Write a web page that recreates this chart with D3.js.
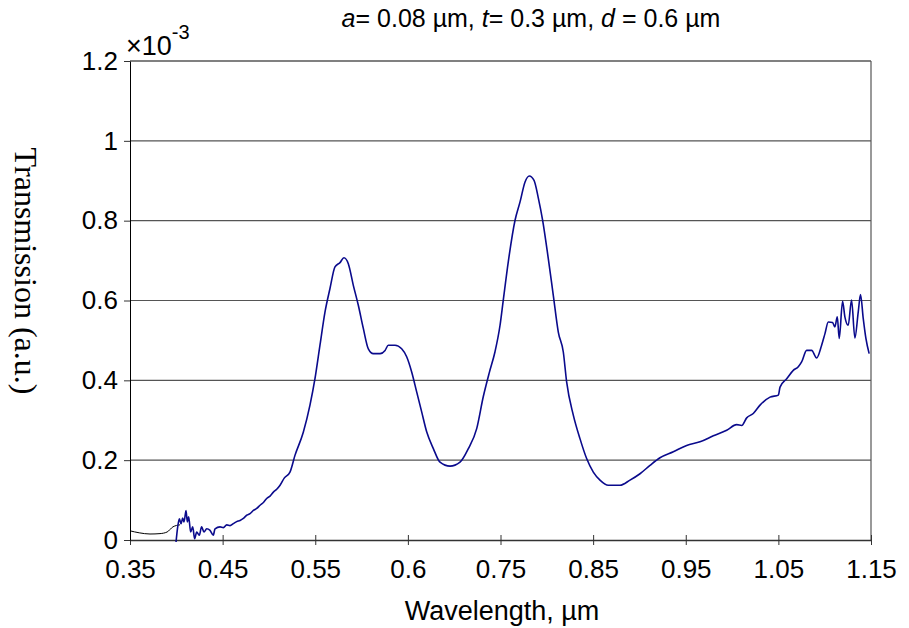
<!DOCTYPE html>
<html>
<head>
<meta charset="utf-8">
<script src="https://cdn.jsdelivr.net/npm/d3@7"></script>
<style>
  body { margin: 0; background: #fff; }
  svg { display: block; }
</style>
</head>
<body>
<svg id="chart" width="909" height="628"></svg>
<script>
// black reference trace (short segment at the start)
var blackWl = [0.35, 0.36, 0.3716, 0.3824, 0.39, 0.3964, 0.404];
var blackT  = [0.023, 0.018, 0.015, 0.016, 0.02, 0.033, 0.038];

// main blue trace, wavelength (um) and transmission (x1e-3)
var blueWl = [0.3997, 0.4015, 0.4033, 0.4051, 0.4069, 0.4083, 0.4105, 0.4119, 0.4133, 0.4155,
  0.4177, 0.4198, 0.422, 0.4248, 0.4273, 0.4299, 0.4328, 0.4364, 0.4399, 0.4418,
  0.4472, 0.4508, 0.4544, 0.458, 0.4616, 0.4652, 0.4688, 0.4724, 0.476, 0.4796,
  0.4832, 0.4868, 0.4904, 0.494, 0.4976, 0.5012, 0.5048, 0.5084, 0.512, 0.5165,
  0.5227, 0.5281, 0.5371, 0.5443, 0.5497, 0.5551, 0.5605, 0.5659, 0.5713, 0.5767,
  0.581, 0.5857, 0.5911, 0.5965, 0.6019, 0.6073, 0.6127, 0.62, 0.6254, 0.6289,
  0.6361, 0.6433, 0.6487, 0.6541, 0.6595, 0.6649, 0.6703, 0.6775, 0.6847, 0.6955,
  0.7063, 0.7153, 0.7243, 0.7315, 0.738, 0.744, 0.7495, 0.753, 0.7584, 0.7657,
  0.7711, 0.7765, 0.7811, 0.7862, 0.7909, 0.7955, 0.8016, 0.807, 0.8124, 0.8178,
  0.8214, 0.8286, 0.8358, 0.843, 0.8502, 0.8574, 0.8664, 0.879, 0.8898, 0.9006,
  0.9114, 0.9222, 0.9366, 0.951, 0.9654, 0.9798, 0.9942, 1.005, 1.0104, 1.0158,
  1.0229, 1.0302, 1.041, 1.05, 1.0518, 1.059, 1.0661, 1.0715, 1.0751, 1.0805,
  1.0859, 1.0913, 1.0967, 1.1003, 1.1039, 1.1085, 1.111, 1.1136, 1.1157, 1.1193,
  1.1218, 1.1254, 1.129, 1.1326, 1.1362, 1.1387, 1.1416, 1.1445, 1.148];
var blueT = [-0.005, 0.033, 0.053, 0.041, 0.055, 0.045, 0.074, 0.045, 0.058, 0.02,
  0.033, 0.003, 0.02, 0.012, 0.033, 0.02, 0.028, 0.024, 0.012, 0.028,
  0.033, 0.031, 0.038, 0.036, 0.041, 0.046, 0.049, 0.054, 0.062, 0.066,
  0.074, 0.079, 0.087, 0.094, 0.104, 0.11, 0.12, 0.127, 0.137, 0.155,
  0.17, 0.212, 0.27, 0.338, 0.404, 0.488, 0.571, 0.63, 0.684, 0.695,
  0.707, 0.692, 0.638, 0.588, 0.53, 0.479, 0.467, 0.467, 0.475, 0.488,
  0.488, 0.479, 0.459, 0.421, 0.371, 0.321, 0.271, 0.229, 0.195, 0.185,
  0.195, 0.229, 0.279, 0.36, 0.42, 0.471, 0.538, 0.601, 0.697, 0.801,
  0.847, 0.897, 0.912, 0.901, 0.856, 0.801, 0.705, 0.613, 0.521, 0.471,
  0.396, 0.313, 0.254, 0.204, 0.17, 0.15, 0.137, 0.137, 0.15, 0.166,
  0.187, 0.206, 0.221, 0.237, 0.246, 0.261, 0.275, 0.289, 0.287, 0.306,
  0.317, 0.338, 0.358, 0.363, 0.383, 0.404, 0.425, 0.434, 0.446, 0.475,
  0.475, 0.456, 0.488, 0.517, 0.546, 0.545, 0.534, 0.559, 0.505, 0.598,
  0.559, 0.538, 0.601, 0.506, 0.571, 0.615, 0.555, 0.505, 0.467];

// axis ticks (the source chart labels 0.65 as "0.6")
var xTicks = [0.35, 0.45, 0.55, 0.65, 0.75, 0.85, 0.95, 1.05, 1.15];
var xTickLabels = ["0.35", "0.45", "0.55", "0.6", "0.75", "0.85", "0.95", "1.05", "1.15"];
var yTicks = [0, 0.2, 0.4, 0.6, 0.8, 1, 1.2];
var yTickLabels = ["0", "0.2", "0.4", "0.6", "0.8", "1", "1.2"];

var svg = d3.select("#chart");
var pLeft = 130, pRight = 871, pTop = 61, pBottom = 540;
var sans = "Liberation Sans, Arial, sans-serif";

var x = d3.scaleLinear().domain([0.35, 1.15]).range([pLeft, pRight]);
var y = d3.scaleLinear().domain([0, 1.2]).range([pBottom, pTop]);

// gridlines
svg.append("g")
    .selectAll("line")
    .data(yTicks.filter(d => d > 0 && d < 1.2))
    .join("line")
    .attr("x1", pLeft).attr("x2", pRight)
    .attr("y1", d => y(d)).attr("y2", d => y(d))
    .attr("stroke", "#555")
    .attr("stroke-width", 1.2);

// frame (top/right)
svg.append("line")
    .attr("x1", pLeft).attr("x2", pRight).attr("y1", pTop).attr("y2", pTop)
    .attr("stroke", "#808080").attr("stroke-width", 2);
svg.append("line")
    .attr("x1", pRight).attr("x2", pRight).attr("y1", pTop).attr("y2", pBottom)
    .attr("stroke", "#555").attr("stroke-width", 1.2);

// x axis
var xAxis = svg.append("g")
    .attr("transform", `translate(0,${pBottom})`)
    .call(d3.axisBottom(x).tickValues(xTicks)
        .tickFormat((d, i) => xTickLabels[i]).tickSize(5).tickSizeOuter(0).tickPadding(15));
xAxis.select(".domain").attr("stroke", "#333").attr("stroke-width", 1.5);
xAxis.selectAll(".tick line").attr("y1", -5).attr("stroke", "#333");
xAxis.selectAll("text")
    .attr("font-family", sans)
    .attr("font-size", 26).attr("fill", "#000");

// y axis
var yAxis = svg.append("g")
    .attr("transform", `translate(${pLeft},0)`)
    .call(d3.axisLeft(y).tickValues(yTicks)
        .tickFormat((d, i) => yTickLabels[i]).tickSize(6).tickSizeOuter(0).tickPadding(6));
yAxis.select(".domain").attr("stroke", "#000").attr("stroke-width", 1);
yAxis.selectAll(".tick line").attr("stroke", "#333");
yAxis.selectAll("text")
    .attr("font-family", sans)
    .attr("font-size", 26).attr("fill", "#000");

// x10^-3 multiplier
var mult = svg.append("text")
    .attr("x", 126).attr("y", 55)
    .attr("font-family", sans)
    .attr("font-size", 27);
mult.append("tspan").text("\u00d710");
mult.append("tspan").attr("dy", -16).attr("font-size", 20).text("-3");

// lines
var line = d3.line().x(d => x(d[0])).y(d => y(d[1])).curve(d3.curveMonotoneX);

svg.append("path")
    .datum(blackWl.map((w, i) => [w, blackT[i]]))
    .attr("fill", "none")
    .attr("stroke", "#000")
    .attr("stroke-width", 1)
    .attr("d", line);

svg.append("path")
    .datum(blueWl.map((w, i) => [w, blueT[i]]))
    .attr("fill", "none")
    .attr("stroke", "#0a0a8c")
    .attr("stroke-width", 1.6)
    .attr("stroke-linejoin", "round")
    .attr("d", line);

// title
var title = svg.append("text")
    .attr("x", 531).attr("y", 27)
    .attr("text-anchor", "middle")
    .attr("font-family", sans)
    .attr("font-size", 25);
title.append("tspan").attr("font-style", "italic").text("a");
title.append("tspan").text("= 0.08 \u00b5m, ");
title.append("tspan").attr("font-style", "italic").text("t");
title.append("tspan").text("= 0.3 \u00b5m, ");
title.append("tspan").attr("font-style", "italic").text("d");
title.append("tspan").text(" = 0.6 \u00b5m");

// axis titles
svg.append("text")
    .attr("x", 502).attr("y", 620)
    .attr("text-anchor", "middle")
    .attr("font-family", sans)
    .attr("font-size", 27)
    .text("Wavelength, \u00b5m");

svg.append("text")
    .attr("transform", "translate(15,271) rotate(90)")
    .attr("text-anchor", "middle")
    .attr("font-family", "Liberation Serif, Times New Roman, serif")
    .attr("font-size", 32)
    .text("Transmission (a.u.)");
</script>
</body>
</html>
